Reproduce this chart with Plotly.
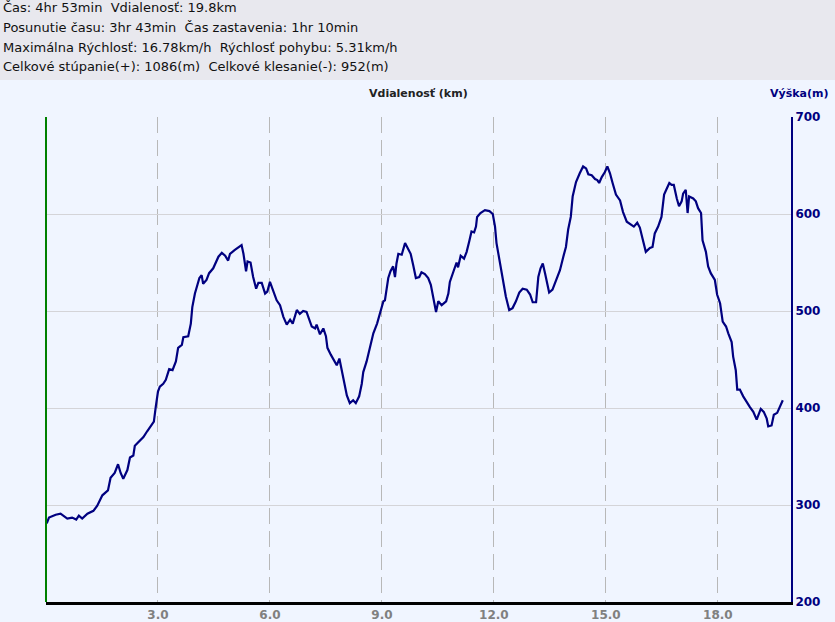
import plotly.graph_objects as go

# ---------------- data ----------------
distance_km = [
    0.02, 0.08, 0.26, 0.39, 0.57, 0.70, 0.81, 0.88, 0.97, 1.11,
    1.27, 1.37, 1.51, 1.66, 1.73, 1.84, 1.93, 2.00, 2.07, 2.18,
    2.25, 2.34, 2.38, 2.54, 2.61, 2.71, 2.82, 2.89, 2.94, 3.00,
    3.05, 3.14, 3.21, 3.30, 3.39, 3.48, 3.54, 3.64, 3.68, 3.81,
    3.88, 3.92, 3.99, 4.11, 4.17, 4.21, 4.30, 4.37, 4.48, 4.57,
    4.62, 4.71, 4.80, 4.88, 4.93, 5.06, 5.15, 5.24, 5.29, 5.36,
    5.40, 5.48, 5.55, 5.63, 5.69, 5.78, 5.87, 5.93, 6.00, 6.09,
    6.18, 6.27, 6.36, 6.45, 6.54, 6.61, 6.72, 6.80, 6.89, 6.98,
    7.05, 7.12, 7.21, 7.25, 7.34, 7.43, 7.50, 7.54, 7.63, 7.72,
    7.79, 7.86, 7.92, 7.98, 8.06, 8.14, 8.23, 8.30, 8.39, 8.46,
    8.50, 8.59, 8.68, 8.77, 8.87, 8.95, 9.04, 9.08, 9.13, 9.17,
    9.23, 9.30, 9.35, 9.39, 9.44, 9.53, 9.62, 9.68, 9.73, 9.77,
    9.84, 9.91, 10.00, 10.06, 10.15, 10.24, 10.31, 10.38, 10.45, 10.51,
    10.60, 10.72, 10.78, 10.82, 10.93, 11.00, 11.04, 11.11, 11.20, 11.27,
    11.34, 11.40, 11.47, 11.52, 11.55, 11.64, 11.76, 11.88, 11.97, 12.03,
    12.07, 12.16, 12.25, 12.32, 12.41, 12.50, 12.59, 12.68, 12.77, 12.88,
    12.97, 13.04, 13.13, 13.19, 13.25, 13.31, 13.37, 13.43, 13.48, 13.57,
    13.68, 13.77, 13.86, 13.93, 13.99, 14.06, 14.11, 14.20, 14.30, 14.39,
    14.47, 14.53, 14.62, 14.71, 14.77, 14.82, 14.89, 14.97, 15.04, 15.11,
    15.18, 15.27, 15.38, 15.46, 15.56, 15.66, 15.75, 15.84, 15.91, 15.98,
    16.07, 16.18, 16.25, 16.31, 16.40, 16.49, 16.56, 16.63, 16.70, 16.76,
    16.82, 16.90, 16.96, 17.03, 17.07, 17.14, 17.19, 17.23, 17.34, 17.41,
    17.47, 17.55, 17.59, 17.68, 17.74, 17.81, 17.92, 17.98, 18.06, 18.13,
    18.22, 18.28, 18.37, 18.41, 18.48, 18.52, 18.59, 18.68, 18.77, 18.86,
    18.95, 19.04, 19.15, 19.23, 19.31, 19.35, 19.44, 19.50, 19.59, 19.66,
    19.74,
]
elevation_m = [
    281, 287, 290, 291, 286, 287, 285, 289, 286, 291,
    294, 299, 310, 315, 328, 333, 342, 333, 327, 336,
    349, 351, 361, 367, 370, 376, 382, 386, 401, 417,
    422, 425, 429, 440, 439, 448, 462, 465, 473, 474,
    487, 504, 518, 534, 537, 528, 532, 539, 544, 551,
    556, 560, 557, 552, 559, 563, 566, 568, 559, 541,
    551, 550, 535, 523, 529, 529, 518, 520, 530, 520,
    511, 506, 494, 486, 491, 487, 501, 497, 500, 499,
    491, 484, 482, 486, 476, 482, 474, 462, 455, 448,
    444, 451, 439, 425, 413, 405, 408, 405, 412, 425,
    437, 448, 463, 477, 487, 499, 510, 511, 523, 534,
    541, 546, 535, 549, 559, 558, 570, 566, 563, 559,
    547, 534, 535, 540, 538, 534, 527, 511, 499, 510,
    506, 510, 518, 530, 542, 550, 545, 557, 554, 561,
    572, 582, 581, 587, 597, 601, 604, 603, 600, 587,
    570, 549, 530, 515, 501, 503, 510, 519, 523, 522,
    517, 509, 509, 535, 544, 549, 539, 529, 519, 522,
    532, 542, 556, 566, 584, 597, 618, 633, 642, 649,
    647, 641, 640, 636, 635, 632, 638, 643, 649, 642,
    632, 620, 614, 602, 592, 589, 587, 591, 586, 575,
    561, 565, 566, 580, 587, 597, 620, 626, 632, 630,
    630, 616, 608, 613, 621, 625, 601, 618, 616, 613,
    606, 601, 573, 561, 546, 539, 532, 517, 508, 489,
    484, 477, 468, 453, 439, 419, 419, 412, 406, 401,
    396, 388, 399, 396, 389, 381, 382, 393, 395, 401,
    408,
]

x_tick_values = [3, 6, 9, 12, 15, 18]
x_tick_labels = ["3.0", "6.0", "9.0", "12.0", "15.0", "18.0"]
y_tick_values = [200, 300, 400, 500, 600, 700]
y_tick_labels = ["200", "300", "400", "500", "600", "700"]

header_lines = [
    "Čas: 4hr 53min  Vdialenosť: 19.8km",
    "Posunutie času: 3hr 43min  Čas zastavenia: 1hr 10min",
    "Maximálna Rýchlosť: 16.78km/h  Rýchlosť pohybu: 5.31km/h",
    "Celkové stúpanie(+): 1086(m)  Celkové klesanie(-): 952(m)",
]
x_title = "Vdialenosť (km)"
y_title = "Výška(m)"

# ---------------- layout geometry ----------------
W, H = 835, 622
L, R, T, B = 46, 44, 117, 20
PW, PH = W - L - R, H - T - B


def fx(px):
    return (px - L) / PW


def fy(py):
    return (H - B - py) / PH


FONT = "DejaVu Sans"
NAVY = "#000080"

fig = go.Figure()
fig.add_trace(go.Scatter(
    x=distance_km, y=elevation_m, mode="lines",
    line=dict(color=NAVY, width=2.2), hoverinfo="skip", showlegend=False,
))

shapes = [
    # header band
    dict(type="rect", xref="paper", yref="paper", x0=fx(-2), x1=fx(W + 2), y0=fy(80), y1=fy(-2),
         fillcolor="#e8e8ee", line=dict(width=0), layer="below"),
    # left green axis line
    dict(type="line", xref="paper", yref="paper", x0=0, x1=0, y0=0, y1=1,
         line=dict(color="#008000", width=2), layer="above"),
]

annotations = []
for i, txt in enumerate(header_lines):
    annotations.append(dict(
        text=txt, xref="paper", yref="paper", x=fx(1), y=fy(8 + 19.5 * i),
        xanchor="left", yanchor="middle", showarrow=False,
        font=dict(family=FONT, size=13, color="#111111"),
    ))
annotations.append(dict(
    text="<b>" + x_title + "</b>", xref="paper", yref="paper", x=fx(418), y=fy(94),
    xanchor="center", yanchor="middle", showarrow=False,
    font=dict(family=FONT, size=11, color="#222222"),
))
annotations.append(dict(
    text="<b>" + y_title + "</b>", xref="paper", yref="paper", x=fx(831), y=fy(94),
    xanchor="right", yanchor="middle", showarrow=False,
    font=dict(family=FONT, size=11, color=NAVY),
))

fig.update_layout(
    width=W, height=H, autosize=False,
    margin=dict(l=L, r=R, t=T, b=B, pad=0, autoexpand=False),
    paper_bgcolor="#f0f5ff", plot_bgcolor="#f0f5ff",
    shapes=shapes, annotations=annotations,
    xaxis=dict(
        range=[0, 19.96], tickvals=x_tick_values, ticktext=x_tick_labels,
        showgrid=True, gridcolor="#b8b8b8", gridwidth=1, griddash="16px,7px",
        showline=True, linecolor="#000000", linewidth=3,
        ticks="", zeroline=False, fixedrange=True,
        tickfont=dict(family=FONT, size=12, color="#808080", weight="bold"),
    ),
    yaxis=dict(
        range=[200, 700], side="right", tickvals=y_tick_values, ticktext=y_tick_labels,
        showgrid=True, gridcolor="#d4d4d8", gridwidth=1,
        showline=True, linecolor=NAVY, linewidth=2,
        ticks="", zeroline=False, fixedrange=True,
        tickfont=dict(family=FONT, size=12, color=NAVY, weight="bold"),
    ),
)

fig.write_html(
    "out.html",
    config={"displayModeBar": False},
    post_script="document.body.style.margin='0';document.body.style.padding='0';",
)
